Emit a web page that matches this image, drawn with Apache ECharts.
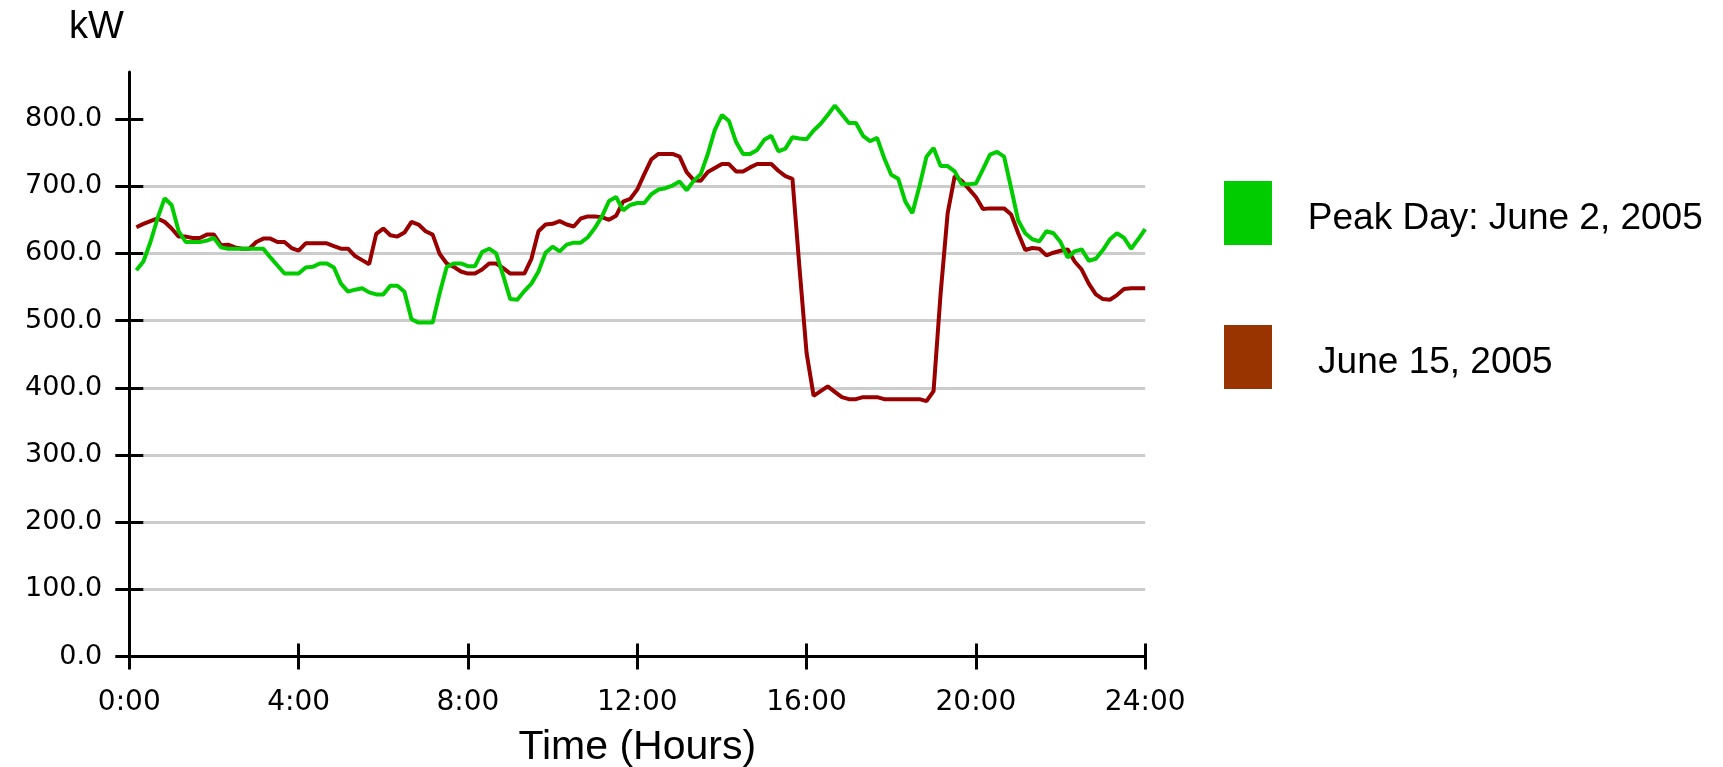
<!DOCTYPE html>
<html>
<head>
<meta charset="utf-8">
<script src="https://cdn.jsdelivr.net/npm/echarts@6/dist/echarts.min.js"></script>
<style>
html,body{margin:0;padding:0;background:#fff;overflow:hidden;}
#chart{width:1723px;height:767px;}
</style>
</head>
<body>
<div id="chart"></div>
<script>
// Time grid: 10-minute samples from 0:00 to 24:00
const timeLabels = [];
for (let m = 0; m <= 1440; m += 10) {
  timeLabels.push(Math.floor(m / 60) + ':' + String(m % 60).padStart(2, '0'));
}
const yTickValues = [0, 100, 200, 300, 400, 500, 600, 700, 800];

const peakDayName = 'Peak Day: June 2, 2005';
const june15Name = 'June 15, 2005';

// kW, first slot (0:00) empty
const peakDay = [null,
  575, 588, 617, 652, 682, 672, 633, 617, 617, 617,
  619, 623, 609, 607, 607, 607, 607, 607, 607, 594,
  582, 570, 570, 570, 579, 580, 585, 585, 579, 555,
  543, 546, 548, 542, 539, 539, 552, 552, 543, 502,
  497, 497, 497, 541, 580, 585, 585, 581, 581, 602,
  607, 600, 567, 532, 531, 544, 555, 573, 601, 610,
  603, 613, 616, 616, 624, 638, 655, 678, 684, 664,
  672, 675, 675, 688, 695, 697, 701, 707, 694, 708,
  718, 748, 784, 806, 797, 766, 748, 748, 754, 769,
  775, 752, 756, 773, 771, 770, 783, 793, 806, 820,
  807, 794, 794, 775, 767, 772, 742, 717, 711, 677,
  660, 700, 744, 757, 730, 730, 722, 703, 703, 704,
  725, 747, 751, 744, 697, 649, 630, 621, 618, 633,
  630, 617, 594, 603, 606, 589, 592, 605, 621, 630,
  623, 607, 621, 636
];

const june15 = [null,
  639, 644, 648, 652, 647, 637, 625, 625, 623, 623,
  628, 628, 612, 613, 609, 607, 607, 617, 622, 622,
  617, 617, 608, 604, 615, 615, 615, 615, 611, 607,
  607, 596, 590, 584, 629, 637, 627, 625, 631, 647,
  643, 633, 628, 599, 585, 580, 573, 570, 570, 576,
  585, 585, 578, 570, 570, 570, 592, 633, 643, 644,
  648, 643, 640, 652, 655, 655, 654, 650, 656, 677,
  681, 695, 718, 740, 748, 748, 748, 744, 721, 709,
  708, 721, 727, 733, 733, 722, 722, 728, 733, 733,
  733, 723, 715, 711, 578, 452, 388, 395, 402, 394,
  386, 383, 383, 386, 386, 386, 383, 383, 383, 383,
  383, 383, 380, 395, 540, 660, 715, 708, 696, 684,
  666, 667, 667, 667, 658, 630, 605, 608, 607, 597,
  601, 604, 606, 588, 576, 555, 539, 532, 531, 538,
  547, 548, 548, 548
];

const FONT = '"Liberation Sans", Arial, Helvetica, sans-serif';
const TICKFONT = '"DejaVu Sans", "Liberation Sans", Arial, sans-serif';
const chart = echarts.init(document.getElementById('chart'), null, {renderer: 'canvas'});

const xBase = {
  type: 'category',
  data: timeLabels,
  boundaryGap: false,
  position: 'bottom',
  gridIndex: 0
};

chart.setOption({
  animation: false,
  backgroundColor: '#ffffff',
  title: {
    text: 'kW',
    left: 64,
    top: 4,
    textStyle: {fontFamily: FONT, fontSize: 38, fontWeight: 'normal', color: '#000'}
  },
  grid: {left: 129.3, right: 577.8, top: 72, bottom: 110.5, containLabel: false, outerBoundsMode: 'none'},
  legend: {
    orient: 'vertical',
    left: 1219,
    top: 176,
    icon: 'rect',
    itemWidth: 48,
    itemHeight: 64,
    itemGap: 80,
    selectedMode: false,
    data: [
      {name: peakDayName, itemStyle: {color: '#00CC00'}},
      {name: june15Name, itemStyle: {color: '#993300'}}
    ],
    formatter: function (name) {
      return '{t|' + (name === june15Name ? '    ' + name : '   ' + name) + '}';
    },
    textStyle: {
      fontFamily: FONT, fontSize: 37, color: '#000',
      rich: {t: {fontFamily: FONT, fontSize: 37, color: '#000', padding: [11, 0, 0, 0]}}
    }
  },
  xAxis: [
    Object.assign({}, xBase, {
      name: 'Time (Hours)',
      nameLocation: 'middle',
      nameGap: 71,
      nameTextStyle: {fontFamily: FONT, fontSize: 41, color: '#000'},
      axisLine: {show: true, lineStyle: {color: '#000', width: 3}},
      axisTick: {show: true, inside: false, length: 13, interval: 23, lineStyle: {color: '#000', width: 3}},
      axisLabel: {show: true, interval: 23, margin: 32, fontFamily: TICKFONT, fontSize: 28, color: '#000'},
      splitLine: {show: false}
    }),
    Object.assign({}, xBase, {
      axisLine: {show: false},
      axisTick: {show: true, inside: true, length: 13, interval: 23, lineStyle: {color: '#000', width: 3}},
      axisLabel: {show: false},
      splitLine: {show: false}
    })
  ],
  yAxis: [
    {
      type: 'value',
      position: 'left',
      min: 0,
      max: 870,
      interval: 100,
      axisLine: {show: true, lineStyle: {color: '#000', width: 3}},
      axisTick: {show: true, inside: false, length: 14, customValues: yTickValues, lineStyle: {color: '#000', width: 3}},
      axisLabel: {
        show: true, margin: 27, customValues: yTickValues,
        fontFamily: TICKFONT, fontSize: 27, color: '#000',
        formatter: function (v) { return Number(v).toFixed(1); }
      },
      splitLine: {show: true, showMinLine: false, showMaxLine: false, lineStyle: {color: '#CCCCCC', width: 3}}
    },
    {
      type: 'value',
      position: 'left',
      offset: 0,
      min: 0,
      max: 870,
      interval: 100,
      axisLine: {show: false},
      axisTick: {show: true, inside: true, length: 14, customValues: yTickValues, lineStyle: {color: '#000', width: 3}},
      axisLabel: {show: false},
      splitLine: {show: false}
    }
  ],
  series: [
    {
      name: june15Name,
      type: 'line',
      xAxisIndex: 0,
      yAxisIndex: 0,
      data: june15,
      showSymbol: false,
      symbol: 'none',
      connectNulls: false,
      lineStyle: {color: '#990000', width: 4},
      itemStyle: {color: '#990000'},
      z: 3
    },
    {
      name: peakDayName,
      type: 'line',
      xAxisIndex: 0,
      yAxisIndex: 0,
      data: peakDay,
      showSymbol: false,
      symbol: 'none',
      connectNulls: false,
      lineStyle: {color: '#00CC00', width: 4},
      itemStyle: {color: '#00CC00'},
      z: 4
    }
  ]
});
</script>
</body>
</html>
